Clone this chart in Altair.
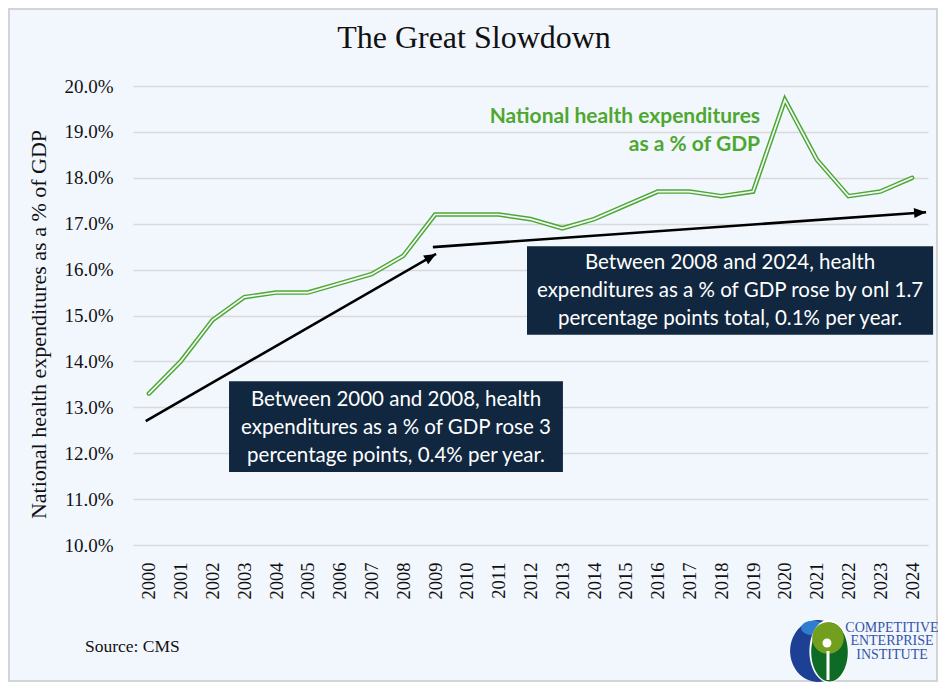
import math
import pandas as pd
import altair as alt

# ---------------- data ----------------
years = list(range(2000, 2025))
nhe_share = [13.3, 14.0, 14.9, 15.4, 15.5, 15.5, 15.7, 15.9, 16.3, 17.2,
             17.2, 17.2, 17.1, 16.9, 17.1, 17.4, 17.7, 17.7, 17.6, 17.7,
             19.7, 18.4, 17.6, 17.7, 18.0]
y_ticks = [10, 11, 12, 13, 14, 15, 16, 17, 18, 19, 20]

# trend arrows (data units: year, % of GDP)
arrow_x0 = [1999.9, 2008.93]
arrow_y0 = [12.7, 16.49]
arrow_x1 = [2009.03, 2024.44]
arrow_y1 = [16.34, 17.25]

# annotation boxes (data units)
box_x0 = [2002.52, 2011.89]
box_x1 = [2013.02, 2024.66]
box_y0 = [13.57, 16.51]
box_y1 = [11.59, 14.58]
box_text = [
    "Between 2000 and 2008, health\nexpenditures as a % of GDP rose 3\npercentage points, 0.4% per year.",
    "Between 2008 and 2024, health\nexpenditures as a % of GDP rose by onl 1.7\npercentage points total, 0.1% per year.",
]
series_label = "National health expenditures\nas a % of GDP"
series_label_x = [2019.22]
series_label_y = [19.02]

# ---------------- styling ----------------
W, H = 795, 459
BG = "#f2f7fe"
GREEN = "#4ea72e"
NAVY = "#10273f"
GRID = "#d9d9d9"
TXT = "#111111"
SERIF = "Liberation Serif"
SANS = "Lato"
LH = 28

px_per_year = W / 25.0
px_per_pct = H / 10.0

x_scale = alt.Scale(domain=[1999.5, 2024.5], nice=False, zero=False)
y_scale = alt.Scale(domain=[10, 20], nice=False, zero=False)

x_axis = alt.Axis(values=years, format="d", labelAngle=270, labelFont=SERIF,
                  labelFontSize=18.5, labelColor=TXT, labelPadding=17,
                  ticks=False, tickSize=0, domain=False, grid=False,
                  title=None, labelOverlap=False, labelFlush=False)
y_axis = alt.Axis(values=y_ticks, labelExpr="format(datum.value, '.1f') + '%'",
                  labelFont=SERIF, labelFontSize=19, labelColor=TXT,
                  labelPadding=20, ticks=False, tickSize=0, domain=False,
                  grid=True, gridColor=GRID, gridWidth=1.5,
                  title="National health expenditures as a % of GDP",
                  titleFont=SERIF, titleFontSize=22, titleFontWeight="normal",
                  titleColor=TXT, titleAngle=270, titleAlign="center",
                  titleBaseline="alphabetic", titleX=-88, titleY=238)


def X(field):
    return alt.X(field, scale=x_scale, axis=x_axis)


def Y(field):
    return alt.Y(field, scale=y_scale, axis=y_axis)


line_df = pd.DataFrame({"year": years, "nhe": nhe_share})

outer = alt.Chart(line_df).mark_line(
    color=GREEN, strokeWidth=4.6, strokeCap="round", strokeJoin="miter"
).encode(x=X("year:Q"), y=Y("nhe:Q"))
inner = alt.Chart(line_df).mark_line(
    color=BG, strokeWidth=1.7, strokeCap="round", strokeJoin="miter"
).encode(x=X("year:Q"), y=Y("nhe:Q"))

arr_df = pd.DataFrame({"x0": arrow_x0, "y0": arrow_y0, "x1": arrow_x1, "y1": arrow_y1})
arr_df["ang"] = [
    (360 - math.degrees(math.atan2((b1 - b0) * px_per_pct, (a1 - a0) * px_per_year))) % 360
    for a0, b0, a1, b1 in zip(arrow_x0, arrow_y0, arrow_x1, arrow_y1)
]

arrow_lines = alt.Chart(arr_df).mark_rule(color="black", strokeWidth=2.6).encode(
    x=X("x0:Q"), y=Y("y0:Q"), x2="x1:Q", y2="y1:Q",
)
arrow_heads = alt.Chart(arr_df).mark_point(
    shape="M0,0 L-1,-0.42 L-1,0.42 Z", filled=True, size=576,
    color="black", opacity=1, strokeWidth=0
).encode(x=X("x1:Q"), y=Y("y1:Q"), angle=alt.Angle("ang:Q", scale=None))

box_df = pd.DataFrame({"x0": box_x0, "x1": box_x1, "y0": box_y0, "y1": box_y1, "t": box_text})
box_df["cx"] = (box_df["x0"] + box_df["x1"]) / 2
box_df["cy"] = (box_df["y0"] + box_df["y1"]) / 2

boxes = alt.Chart(box_df).mark_rect(color=NAVY, opacity=1).encode(
    x=X("x0:Q"), x2="x1:Q", y=Y("y0:Q"), y2="y1:Q",
)
box_texts = alt.Chart(box_df).mark_text(
    font=SANS, fontSize=20.5, color="white", align="center", baseline="middle",
    lineBreak="\n", lineHeight=LH, dy=-LH + 1
).encode(x=X("cx:Q"), y=Y("cy:Q"), text="t:N")

lab_df = pd.DataFrame({"x": series_label_x, "y": series_label_y, "t": [series_label]})
series_text = alt.Chart(lab_df).mark_text(
    font=SANS, fontSize=21, fontWeight="bold", color=GREEN, align="right",
    baseline="middle", lineBreak="\n", lineHeight=LH, dy=-LH / 2
).encode(x=X("x:Q"), y=Y("y:Q"), text="t:N")


# ---------------- decorations (pixel positions) ----------------
def one(t):
    return pd.DataFrame({"t": [t]})


title = alt.Chart(one("The Great Slowdown")).mark_text(
    font=SERIF, fontSize=32, color=TXT, align="center", baseline="alphabetic"
).encode(x=alt.value(341), y=alt.value(-38), text="t:N")

source = alt.Chart(one("Source: CMS")).mark_text(
    font=SERIF, fontSize=17.5, color=TXT, align="left", baseline="middle"
).encode(x=alt.value(-48), y=alt.value(561), text="t:N")

border = alt.Chart(one("b")).mark_rect(
    fillOpacity=0, stroke="#d4d4d4", strokeWidth=2
).encode(x=alt.value(-124), x2=alt.value(804), y=alt.value(-77), y2=alt.value(595))

ELL = "M-0.9,0 A0.9,1 0 1,0 0.9,0 A0.9,1 0 1,0 -0.9,0 Z"
ELL2 = "M-0.62,0 A0.62,1 0 1,0 0.62,0 A0.62,1 0 1,0 -0.62,0 Z"


def blob(shape, px, py, size, color):
    return alt.Chart(one("l")).mark_point(
        shape=shape, filled=True, size=size, color=color, opacity=1, strokeWidth=0
    ).encode(x=alt.value(px), y=alt.value(py))


def logo_word(word, py):
    return alt.Chart(one(word)).mark_text(
        font=SERIF, fontSize=14, color="#3553a8", align="center", baseline="middle"
    ).encode(x=alt.value(759), y=alt.value(py), text="t:N")


logo = [
    blob(ELL, 685, 565, 3844, "#1d3f94"),
    blob("M-1,0 A1,0.6 0 1,0 1,0 A1,0.6 0 1,0 -1,0 Z", 680, 542, 576, "#2e7dd1"),
    blob(ELL2, 696, 565, 4000, "#ffffff"),
    blob(ELL2, 696.5, 566, 3481, "#0d6b25"),
    blob("circle", 695, 552, 1000, "#72a01e"),
    blob("circle", 694, 557, 80, "#ffffff"),
    alt.Chart(one("s")).mark_rect(color="#ffffff", opacity=1).encode(
        x=alt.value(693.5), x2=alt.value(696.5), y=alt.value(565), y2=alt.value(594)),
    logo_word("COMPETITIVE", 541.5),
    logo_word("ENTERPRISE", 555),
    logo_word("INSTITUTE", 568.5),
]

chart = alt.layer(
    outer, inner, arrow_lines, arrow_heads, boxes, box_texts, series_text,
    title, source, border, *logo,
).properties(
    width=W, height=H,
    padding={"left": 125, "top": 78, "right": 10, "bottom": 137},
    autosize=alt.AutoSizeParams(type="none"),
    background=BG,
).configure_view(stroke=None)

chart.save("out.html", embed_options={"renderer": "svg", "actions": False})
